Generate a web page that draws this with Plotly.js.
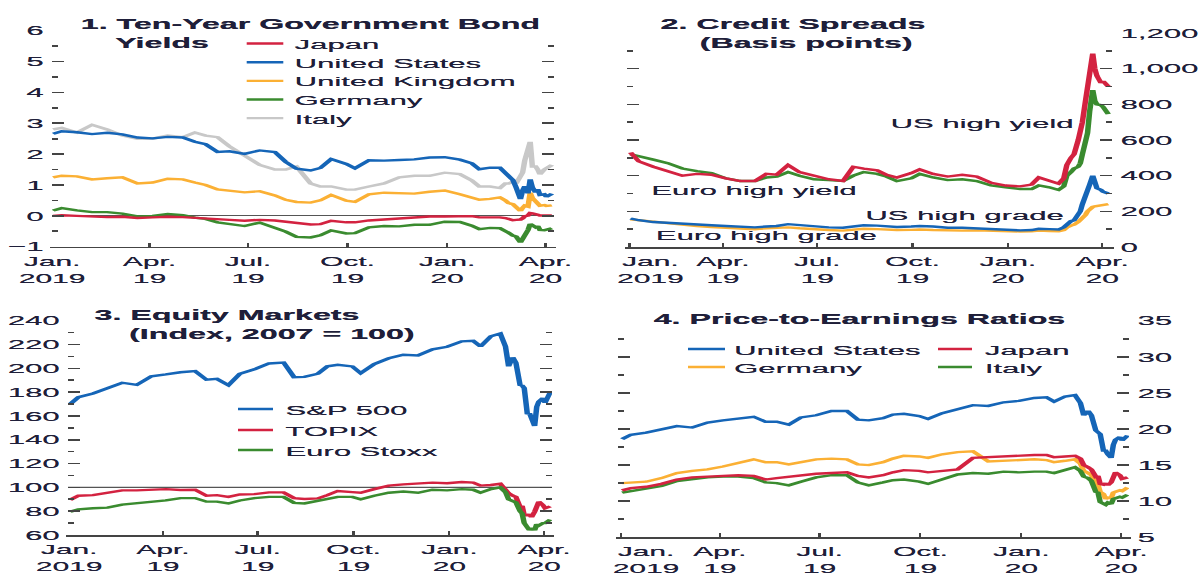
<!DOCTYPE html>
<html><head><meta charset="utf-8">
<script src="https://cdn.plot.ly/plotly-3.0.1.min.js"></script>
<style>
html,body{margin:0;padding:0;background:#fff;overflow:hidden;width:1201px;height:576px;}
#chart{width:522px;height:576px;transform:scaleX(2.30077);transform-origin:0 0;}
</style></head><body><div id="chart"></div>
<script>
// ---------- DATA ----------
const dates = ['2019-01-02','2019-01-10','2019-01-24','2019-02-07','2019-02-21','2019-03-07','2019-03-21','2019-04-04','2019-04-18','2019-05-02',
 '2019-05-13','2019-05-23','2019-06-03','2019-06-14','2019-06-28','2019-07-12','2019-07-26','2019-08-05','2019-08-15','2019-08-28',
 '2019-09-06','2019-09-16','2019-09-30','2019-10-08','2019-10-21','2019-11-04','2019-11-18','2019-12-02','2019-12-16','2019-12-30',
 '2020-01-13','2020-01-24','2020-01-31','2020-02-10','2020-02-19','2020-02-24','2020-02-27','2020-03-02','2020-03-05','2020-03-09',
 '2020-03-11','2020-03-13','2020-03-16','2020-03-18','2020-03-20','2020-03-23','2020-03-25','2020-03-27','2020-03-31','2020-04-02',
 '2020-04-07'];

// Panel 1: ten-year government bond yields (percent)
const yieldJapan = [0.00,0.02,0.00,-0.02,-0.04,-0.03,-0.07,-0.05,-0.03,-0.04,
 -0.06,-0.07,-0.11,-0.13,-0.16,-0.13,-0.15,-0.19,-0.23,-0.28,
 -0.27,-0.16,-0.21,-0.21,-0.15,-0.12,-0.09,-0.05,-0.02,-0.02,
 -0.01,-0.01,-0.05,-0.04,-0.05,-0.07,-0.09,-0.14,-0.13,-0.12,
 -0.08,-0.01,0.01,0.09,0.08,0.07,0.04,0.01,0.02,0.01,
 0.01];
const yieldUS = [2.66,2.74,2.71,2.65,2.69,2.64,2.54,2.51,2.56,2.54,
 2.40,2.32,2.07,2.09,2.01,2.12,2.07,1.75,1.53,1.47,
 1.55,1.84,1.68,1.54,1.80,1.79,1.81,1.83,1.89,1.90,
 1.82,1.70,1.51,1.56,1.56,1.37,1.26,1.16,0.92,0.54,
 0.82,0.96,0.73,1.18,0.92,0.76,0.86,0.68,0.70,0.62,
 0.72];
const yieldUK = [1.25,1.30,1.28,1.18,1.22,1.25,1.05,1.08,1.20,1.18,
 1.08,1.00,0.86,0.82,0.76,0.80,0.66,0.52,0.45,0.43,
 0.50,0.68,0.49,0.45,0.70,0.75,0.74,0.72,0.78,0.82,
 0.70,0.58,0.52,0.55,0.60,0.50,0.41,0.38,0.28,0.16,
 0.26,0.33,0.30,0.75,0.58,0.45,0.38,0.33,0.35,0.32,
 0.34];
const yieldGermany = [0.17,0.25,0.18,0.12,0.12,0.07,-0.02,0.00,0.06,0.02,
 -0.06,-0.10,-0.21,-0.26,-0.33,-0.22,-0.38,-0.51,-0.68,-0.70,
 -0.63,-0.47,-0.57,-0.56,-0.37,-0.33,-0.34,-0.29,-0.29,-0.19,
 -0.20,-0.32,-0.43,-0.39,-0.40,-0.48,-0.55,-0.64,-0.67,-0.86,
 -0.75,-0.55,-0.46,-0.26,-0.32,-0.37,-0.33,-0.46,-0.47,-0.45,
 -0.40];
const yieldItaly = [2.80,2.85,2.70,2.95,2.80,2.60,2.50,2.50,2.60,2.55,
 2.70,2.60,2.55,2.25,1.95,1.65,1.50,1.50,1.60,1.05,
 0.95,0.95,0.85,0.85,0.95,1.05,1.25,1.30,1.30,1.40,
 1.35,1.15,0.95,0.95,0.90,1.05,1.05,1.10,1.05,1.30,
 1.40,1.80,2.10,2.40,1.60,1.60,1.50,1.35,1.50,1.55,
 1.65];

// Panel 2: credit spreads (basis points)
const spreadUSHighYield = [530,480,450,425,400,410,405,385,370,370,
 410,405,460,420,400,380,370,450,440,430,
 405,390,415,435,410,395,405,395,360,345,
 340,350,390,370,355,385,460,500,520,600,
 640,700,820,900,980,1085,1000,960,920,930,
 900];
const spreadEuroHighYield = [520,510,490,470,440,425,415,385,370,370,
 390,395,420,400,380,375,370,400,420,410,
 395,370,385,410,390,375,380,370,345,335,
 325,325,345,335,320,340,400,420,440,450,
 470,520,580,640,760,880,820,800,795,785,
 745];
const spreadUSHighGrade = [160,150,140,135,128,125,122,118,112,110,
 115,118,128,122,115,110,108,115,122,120,
 115,112,115,118,115,108,108,105,98,95,
 93,95,102,100,98,110,130,145,150,180,
 200,240,280,320,350,400,370,330,320,310,
 300];
const spreadEuroHighGrade = [155,150,140,135,125,118,112,108,102,100,
 105,108,110,105,98,95,92,98,102,100,
 97,95,96,98,95,92,92,93,90,88,
 87,88,92,90,88,95,110,120,125,140,
 150,165,180,200,215,225,228,230,232,235,
 240];

// Panel 3: equity markets (index, 2007 = 100)
const eqSP500 = [169.9,175.8,178.9,183.2,187.9,186.1,193.3,194.9,196.7,197.6,
 190.4,191.1,185.8,195.5,199.2,204.1,204.9,192.6,192.8,195.5,
 201.7,203.0,201.6,195.9,203.6,208.4,211.4,210.8,216.0,218.1,
 222.6,223.1,218.4,226.9,229.2,218.4,201.7,209.2,204.7,186.0,
 185.6,183.5,161.5,162.4,156.1,151.5,167.6,172.0,175.0,171.1,
 180.0];
const eqTOPIX = [89.5,93.0,93.5,95.5,97.5,97.5,97.8,98.5,97.8,98.0,
 93.0,93.5,92.0,94.0,94.3,95.8,95.8,91.0,90.3,90.8,
 93.5,97.0,96.0,95.5,98.5,101.5,102.5,103.0,104.0,103.5,
 104.5,104.0,101.5,102.0,103.0,98.0,95.0,93.0,92.0,83.5,
 84.5,76.5,76.5,77.5,75.0,79.5,86.0,88.0,85.0,82.5,
 84.0];
const eqEuroStoxx = [79.5,81.5,82.5,83.0,85.5,86.5,88.0,89.0,91.0,91.0,
 88.0,88.0,86.5,89.0,91.0,92.0,92.0,87.0,86.5,88.5,
 90.5,92.0,92.0,90.0,93.0,95.5,96.5,95.5,98.0,97.5,
 98.5,98.0,95.5,98.5,100.0,96.0,90.0,88.5,87.5,80.0,
 78.0,70.0,66.0,64.0,66.0,64.0,69.0,68.0,70.0,70.0,
 73.0];

// Panel 4: price-to-earnings ratios
const peUS = [18.6,19.2,19.5,19.9,20.4,20.2,20.9,21.2,21.5,21.7,
 21.0,21.0,20.6,21.6,21.9,22.5,22.5,21.3,21.2,21.5,
 22.0,22.1,21.8,21.4,22.2,22.8,23.3,23.2,23.7,23.9,
 24.3,24.4,23.8,24.5,24.7,23.6,21.9,22.5,21.9,19.8,
 19.6,19.3,17.0,17.0,16.5,16.0,17.8,18.5,18.9,18.4,
 19.1];
const peJapan = [11.5,11.8,12.0,12.4,13.0,13.3,13.4,13.5,13.6,13.5,
 13.0,13.2,13.4,13.6,13.8,13.9,14.0,13.5,13.3,13.6,
 14.0,14.3,14.2,14.0,14.2,14.4,16.0,16.1,16.3,16.3,
 16.4,16.4,16.1,16.2,16.3,15.9,15.0,14.7,14.4,13.4,
 13.5,12.4,12.3,12.5,12.2,12.6,13.6,14.0,13.6,13.1,
 13.3];
const peGermany = [12.5,12.6,12.7,13.2,13.9,14.2,14.4,14.8,15.3,15.8,
 15.4,15.4,15.1,15.4,15.8,15.9,15.8,15.1,15.0,15.4,
 15.9,16.3,16.2,16.0,16.5,16.8,16.9,15.5,15.6,15.6,
 15.8,15.7,15.4,15.6,15.8,15.2,14.2,13.9,13.6,12.5,
 12.3,11.3,11.0,10.3,10.5,10.4,11.2,11.3,11.5,11.4,
 11.9];
const peItaly = [11.2,11.4,11.7,12.1,12.8,13.1,13.3,13.4,13.4,13.2,
 12.6,12.5,12.2,12.7,13.3,13.6,13.6,12.6,12.2,12.6,
 12.9,13.0,12.7,12.4,13.0,13.7,13.9,13.8,14.1,14.0,
 14.1,14.1,13.9,14.3,14.7,14.2,13.4,13.2,12.8,11.3,
 11.2,9.9,9.6,9.5,9.8,9.6,10.3,10.4,10.6,10.5,
 10.9];

const tickDates = ['2019-01-01','2019-04-01','2019-07-01','2019-10-01','2020-01-01','2020-04-01'];
const tickText = ['Jan.<br>2019','Apr.<br>19','Jul.<br>19','Oct.<br>19','Jan.<br>20','Apr.<br>20'];

// ---------- STYLE / LAYOUT ----------
const W = 522, H = 576, SX = 1201 / W;
const px = x => x / SX / W;      // reference-pixel x -> paper fraction
const py = y => 1 - y / H;       // reference-pixel y -> paper fraction
const FONT = 'Liberation Sans, Arial, sans-serif';
const TXT = '#1f1f3a';
const SHADOW = '0.25px 0 0 #1f1f3a';
const AX = '#444444';
const C = {red:'#d32240', blue:'#1565b7', orange:'#fbb034', green:'#3a8b2f', gray:'#c8c8c8'};
const LW = 2.4;

function padded(n, s) { return '\u00A0'.repeat(n) + s; }

function line(x, y, name, color, xa, ya) {
  return {x: dates, y: y, name: name, type: 'scatter', mode: 'lines', xaxis: xa, yaxis: ya,
          line: {color: color, width: LW}, showlegend: false, hoverinfo: 'skip'};
}

const traces = [
  line(dates, yieldItaly, 'Italy', C.gray, 'x', 'y'),
  line(dates, yieldGermany, 'Germany', C.green, 'x', 'y'),
  line(dates, yieldUK, 'United Kingdom', C.orange, 'x', 'y'),
  line(dates, yieldJapan, 'Japan', C.red, 'x', 'y'),
  line(dates, yieldUS, 'United States', C.blue, 'x', 'y'),

  line(dates, spreadEuroHighGrade, 'Euro high grade', C.orange, 'x2', 'y2'),
  line(dates, spreadUSHighGrade, 'US high grade', C.blue, 'x2', 'y2'),
  line(dates, spreadEuroHighYield, 'Euro high yield', C.green, 'x2', 'y2'),
  line(dates, spreadUSHighYield, 'US high yield', C.red, 'x2', 'y2'),

  line(dates, eqTOPIX, 'TOPIX', C.red, 'x3', 'y3'),
  line(dates, eqEuroStoxx, 'Euro Stoxx', C.green, 'x3', 'y3'),
  line(dates, eqSP500, 'S&P 500', C.blue, 'x3', 'y3'),

  line(dates, peGermany, 'Germany', C.orange, 'x4', 'y4'),
  line(dates, peItaly, 'Italy', C.green, 'x4', 'y4'),
  line(dates, peJapan, 'Japan', C.red, 'x4', 'y4'),
  line(dates, peUS, 'United States', C.blue, 'x4', 'y4')
];

function xAxis(domain, range, anchor, firstPad) {
  const tt = tickText.slice();
  if (firstPad) tt[0] = padded(firstPad, 'Jan.') + '<br>' + padded(firstPad, '2019');
  return {domain: domain, range: range, anchor: anchor, type: 'date',
    tickmode: 'array', tickvals: tickDates, ticktext: tt,
    ticks: 'inside', ticklen: 4, tickwidth: 1, tickcolor: AX,
    showline: true, linecolor: AX, linewidth: 1.6, ticklabelstandoff: 2,
    showgrid: false, zeroline: false, fixedrange: true,
    tickfont: {family: FONT, size: 13, color: TXT, shadow: SHADOW}};
}
function yAxis(domain, range, anchor, side, dtick, minorDtick, extra) {
  return Object.assign({domain: domain, range: range, anchor: anchor, side: side,
    tickmode: 'linear', tick0: 0, dtick: dtick,
    ticks: 'inside', ticklen: 5, tickwidth: 1.6, tickcolor: AX,
    mirror: 'ticks', showline: true, linecolor: 'rgba(0,0,0,0)', linewidth: 1,
    showgrid: false, zeroline: false, fixedrange: true,
    minor: {dtick: minorDtick, tick0: 0, ticks: 'inside', ticklen: 2.5, tickwidth: 1.6, tickcolor: AX, showgrid: false},
    tickfont: {family: FONT, size: 13.5, color: TXT, shadow: SHADOW}}, extra || {});
}

function text(t, xr, yr, opts) {
  return Object.assign({text: t, x: px(xr - 3), y: py(yr), xref: 'paper', yref: 'paper',
    xanchor: 'left', yanchor: 'middle', showarrow: false,
    font: {family: FONT, size: 13.5, color: TXT, shadow: SHADOW}}, opts || {});
}
function title(t, xr, yr) {
  return text('<b>' + t + '</b>', xr, yr, {font: {family: FONT, size: 14, color: TXT, shadow: '0.35px 0 0 #1f1f3a'}});
}
function dataLabel(t, xa, ya, x, y) {
  return {text: t, x: x, y: y, xref: xa, yref: ya, xanchor: 'left', yanchor: 'middle',
    showarrow: false, font: {family: FONT, size: 13.5, color: TXT, shadow: SHADOW}};
}

// custom legends: [name, colour, sampleX0, sampleX1, textX, rowY] in reference pixels
const legendItems = [
  ['Japan', C.red, 246.7, 283.3, 293, 43.5],
  ['United States', C.blue, 246.7, 283.3, 293, 62.3],
  ['United Kingdom', C.orange, 246.7, 283.3, 293, 80.9],
  ['Germany', C.green, 246.7, 283.3, 293, 99.5],
  ['Italy', C.gray, 246.7, 283.3, 293, 118.1],
  ['S&P 500', C.blue, 238, 273, 283, 409],
  ['TOPIX', C.red, 238, 273, 283, 430],
  ['Euro Stoxx', C.green, 238, 273, 283, 450],
  ['United States', C.blue, 688, 725, 733, 349],
  ['Germany', C.orange, 688, 725, 733, 367],
  ['Japan', C.red, 938, 972, 982, 349],
  ['Italy', C.green, 938, 972, 982, 367]
];

const shapes = [
  {type: 'line', xref: 'x3 domain', yref: 'y3', x0: 0, x1: 1, y0: 100, y1: 100,
   line: {color: '#555555', width: 1.3}, layer: 'below'}
];
const annotations = [
  title('1. Ten-Year Government Bond', 78, 24),
  title('Yields', 113, 43),
  title('2. Credit Spreads', 658, 24),
  title('(Basis points)', 697, 43),
  title('3. Equity Markets', 93, 315),
  title('(Index, 2007 = 100)', 128, 333.5),
  title('4. Price-to-Earnings Ratios', 651.7, 319),
  dataLabel('US high yield', 'x2', 'y2', '2019-09-06', 690),
  dataLabel('Euro high yield', 'x2', 'y2', '2019-01-17', 314),
  dataLabel('US high grade', 'x2', 'y2', '2019-08-11', 179),
  dataLabel('Euro high grade', 'x2', 'y2', '2019-01-22', 67)
];
legendItems.forEach(function (it) {
  shapes.push({type: 'line', xref: 'paper', yref: 'paper', x0: px(it[2]), x1: px(it[3]),
    y0: py(it[5]), y1: py(it[5]), line: {color: it[1], width: LW}});
  annotations.push(text(it[0], it[4], it[5] + 1));
});

const layout = {
  width: W, height: H, margin: {l: 0, r: 0, t: 0, b: 0},
  paper_bgcolor: '#ffffff', plot_bgcolor: 'rgba(0,0,0,0)',
  font: {family: FONT, color: TXT}, showlegend: false,
  xaxis: xAxis([px(52), px(554)], ['2019-01-01', '2020-04-09'], 'y', 0),
  yaxis: yAxis([py(246.7), py(30.7)], [-1, 6], 'x', 'left', 1, 0.5,
               {zeroline: true, zerolinecolor: '#555555', zerolinewidth: 1.3}),
  xaxis2: xAxis([px(627), px(1112)], ['2018-12-29 14:00', '2020-04-10 14:00'], 'y2', 5),
  yaxis2: yAxis([py(247), py(33)], [0, 1200], 'x2', 'right', 200, 100, {tickformat: ',d'}),
  xaxis3: xAxis([px(68), px(552)], ['2018-12-31', '2020-04-08 16:00'], 'y3', 0),
  yaxis3: yAxis([py(535), py(320.7)], [60, 240], 'x3', 'left', 20, 10),
  xaxis4: xAxis([px(618), px(1129)], ['2018-12-29 07:00', '2020-04-08 07:00'], 'y4', 6),
  yaxis4: yAxis([py(537.3), py(320.7)], [5, 35], 'x4', 'right', 5, 2.5),
  shapes: shapes,
  annotations: annotations
};

Plotly.newPlot('chart', traces, layout, {staticPlot: true, displayModeBar: false});
</script>
</body></html>
